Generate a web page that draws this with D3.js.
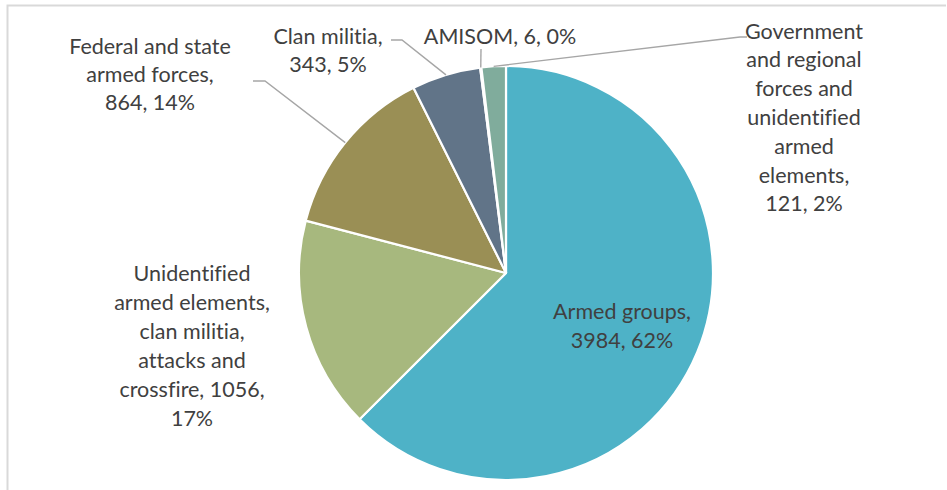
<!DOCTYPE html>
<html><head><meta charset="utf-8">
<script src="https://cdn.jsdelivr.net/npm/d3@7"></script>
<style>body{margin:0;background:#fff}svg{display:block}text{font-variant-ligatures:none;font-feature-settings:"liga" 0,"clig" 0}</style>
</head><body>
<svg id="c" width="947" height="490"></svg>
<script>
const categories = ["Armed groups","Unidentified armed elements, clan militia, attacks and crossfire","Federal and state armed forces","Clan militia","AMISOM","Government and regional forces and unidentified armed elements"];
const values = [3984, 1056, 864, 343, 6, 121];
const percents = ["62%","17%","14%","5%","0%","2%"];
const labelLines = [
  ["Armed groups,","3984, 62%"],
  ["Unidentified","armed elements,","clan militia,","attacks and","crossfire, 1056,","17%"],
  ["Federal and state","armed forces,","864, 14%"],
  ["Clan militia,","343, 5%"],
  ["AMISOM, 6, 0%"],
  ["Government","and regional","forces and","unidentified","armed","elements,","121, 2%"]
];
const colors = ["#4EB2C7","#A7B87E","#9A8F55","#617488","#8FB0A8","#80AC9C"];
// label layout: center x, first line center y, line spacing
const labelPos = [[622,311,29],[192,273,29.1],[150,46,28],[328,36,28],[500,36,28],[804,31,28.8]];
// leader line elbows (label side)
const leaders = [null,null,[[253,81],[265,81]],[[391,40],[402,40]],[[481,49]],[[747,37],[740,37]]];

const svg = d3.select("#c");
svg.append("path").attr("d","M7.5,490 V5.5 H946").attr("fill","none").attr("stroke","#d9d9d9").attr("stroke-width",2);

const cx = 506, cy = 273, r = 207;
const pie = d3.pie().sort(null).value(d=>d)(values);
const arc = d3.arc().innerRadius(0).outerRadius(r);
const g = svg.append("g").attr("transform",`translate(${cx},${cy})`);
g.selectAll("path").data(pie).join("path")
  .attr("d",arc).attr("fill",(d,i)=>colors[i])
  .attr("stroke","#fff").attr("stroke-width",2.2).attr("stroke-linejoin","round");

const edge = d3.arc().innerRadius(r).outerRadius(r);
pie.forEach((d,i)=>{
  if(!leaders[i]) return;
  const c = edge.centroid(d);
  const pts = [[c[0]+cx,c[1]+cy]].concat(leaders[i].slice().reverse());
  svg.append("path").attr("d",d3.line()(pts.slice().reverse()))
    .attr("fill","none").attr("stroke","#A6A6A6").attr("stroke-width",1.4);
});

labelLines.forEach((lines,i)=>{
  const [x,y,dy]=labelPos[i];
  const t = svg.append("text").attr("text-anchor","middle")
    .attr("font-family","Lato, sans-serif").attr("font-size",21.5).attr("fill","#404040");
  lines.forEach((l,j)=>t.append("tspan").attr("x",x).attr("y",y+j*dy).attr("dy","0.35em").text(l));
});
</script>
</body></html>
